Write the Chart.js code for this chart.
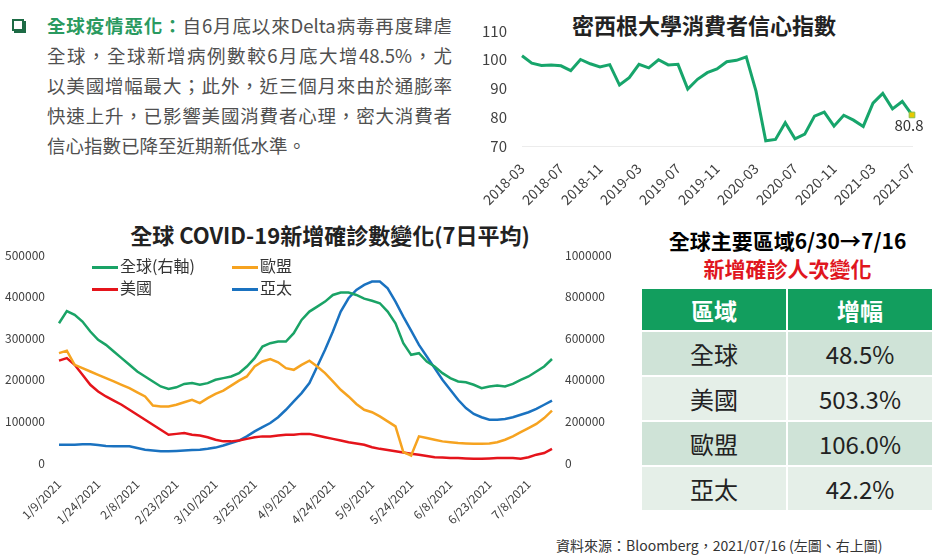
<!DOCTYPE html>
<html>
<head>
<meta charset="utf-8">
<script src="https://cdn.jsdelivr.net/npm/chart.js@4.4.0/dist/chart.umd.min.js"></script>
<style>
  body { margin: 0; width: 938px; height: 557px; background: #fff; overflow: hidden; position: relative;
         font-family: 'Noto Sans CJK TC', 'Noto Sans', sans-serif; }
  .abs { position: absolute; }
  #box { left: 12px; top: 19px; width: 8px; height: 8px; border: 2px solid #1d6b45; box-shadow: 2px 2px 0 #1d6b45; }
  #note { left: 47px; top: 10px; width: 405px; font-size: 18.5px; line-height: 30px; color: #505050; }
  #note .j { text-align: justify; text-align-last: justify; }
  #note b { color: #2a9a60; }
  .title { font-weight: bold; font-size: 22px; color: #222; white-space: nowrap; text-align: center; }
  #legend { left: 92px; top: 254px; font-size: 16px; color: #333; }
  .item { position: absolute; white-space: nowrap; height: 22px; line-height: 22px; }
  .item span { display: inline-block; width: 26px; height: 3px; vertical-align: middle; margin-right: 2px; }
  #tblTitle { left: 640px; top: 226px; width: 295px; text-align: center; font-weight: bold; font-size: 21px; line-height: 28px; }
  table { position: absolute; left: 640px; top: 287px; border-collapse: separate; border-spacing: 2px; }
  th { background: #129e5e; color: #fff; font-size: 23px; font-weight: bold; height: 41px; width: 144px; padding: 0; }
  td { font-size: 24px; color: #222; height: 43px; text-align: center; padding: 0; }
  tr.a td { background: #cfe3d7; }
  tr.b td { background: #e5efe8; }
  #src { left: 556px; top: 535px; font-size: 14px; color: #333; white-space: nowrap; }
</style>
</head>
<body>
<div id="box" class="abs"></div>
<div id="note" class="abs">
  <div class="j"><b>全球疫情惡化：</b>自6月底以來Delta病毒再度肆虐</div>
  <div class="j">全球，全球新增病例數較6月底大增48.5%，尤</div>
  <div class="j">以美國增幅最大；此外，近三個月來由於通膨率</div>
  <div class="j">快速上升，已影響美國消費者心理，密大消費者</div>
  <div>信心指數已降至近期新低水準。</div>
</div>

<div class="abs title" style="left:470px; top:8px; width:468px;">密西根大學消費者信心指數</div>
<canvas id="sentimentChart" class="abs" width="468" height="210" style="left:470px; top:0;"></canvas>

<div class="abs title" style="left:80px; top:218px; width:500px;">全球 COVID-19新增確診數變化(7日平均)</div>
<canvas id="covidChart" class="abs" width="625" height="320" style="left:0; top:215px;"></canvas>
<div id="legend" class="abs"></div>

<div id="tblTitle" class="abs">全球主要區域6/30→7/16<br><span style="color:#e0161e">新增確診人次變化</span></div>
<table id="tbl"></table>

<div id="src" class="abs">資料來源：Bloomberg，2021/07/16 (左圖、右上圖)</div>

<script>
// Michigan consumer sentiment, monthly
const months = ['2018-03','2018-04','2018-05','2018-06','2018-07','2018-08','2018-09','2018-10','2018-11','2018-12',
  '2019-01','2019-02','2019-03','2019-04','2019-05','2019-06','2019-07','2019-08','2019-09','2019-10','2019-11','2019-12',
  '2020-01','2020-02','2020-03','2020-04','2020-05','2020-06','2020-07','2020-08','2020-09','2020-10','2020-11','2020-12',
  '2021-01','2021-02','2021-03','2021-04','2021-05','2021-06','2021-07'];
const sentiment = [101.4, 98.8, 98.0, 98.2, 97.9, 96.2, 100.1, 98.6, 97.5, 98.3,
  91.2, 93.8, 98.4, 97.2, 100.0, 98.2, 98.4, 89.8, 93.2, 95.5, 96.8, 99.3,
  99.8, 101.0, 89.1, 71.8, 72.3, 78.1, 72.5, 74.1, 80.4, 81.8, 76.9, 80.7,
  79.0, 76.8, 84.9, 88.3, 82.9, 85.5, 80.8];
const sentimentTicks = [70, 80, 90, 100, 110];

// COVID-19 new cases, 7-day average (every 3rd day)
const dates = ['1/9/2021','1/12/2021','1/15/2021','1/18/2021','1/21/2021','1/24/2021','1/27/2021','1/30/2021',
  '2/2/2021','2/5/2021','2/8/2021','2/11/2021','2/14/2021','2/17/2021','2/20/2021','2/23/2021','2/26/2021',
  '3/1/2021','3/4/2021','3/7/2021','3/10/2021','3/13/2021','3/16/2021','3/19/2021','3/22/2021','3/25/2021','3/28/2021','3/31/2021',
  '4/3/2021','4/6/2021','4/9/2021','4/12/2021','4/15/2021','4/18/2021','4/21/2021','4/24/2021','4/27/2021','4/30/2021',
  '5/3/2021','5/6/2021','5/9/2021','5/12/2021','5/15/2021','5/18/2021','5/21/2021','5/24/2021','5/27/2021','5/30/2021',
  '6/2/2021','6/5/2021','6/8/2021','6/11/2021','6/14/2021','6/17/2021','6/20/2021','6/23/2021','6/26/2021','6/29/2021',
  '7/2/2021','7/5/2021','7/8/2021','7/11/2021','7/14/2021','7/16/2021'];
const globalCases = [672000,730000,712000,680000,632000,592000,568000,536000,504000,472000,440000,416000,392000,368000,356000,364000,
  380000,384000,376000,384000,400000,408000,416000,432000,464000,504000,560000,576000,584000,584000,624000,688000,
  728000,752000,776000,808000,820000,820000,808000,790000,780000,768000,728000,672000,576000,520000,528000,488000,
  464000,432000,408000,392000,388000,376000,360000,368000,372000,368000,380000,400000,416000,440000,464000,500000];
const euCases = [264000,270000,236000,228000,220000,212000,204000,196000,188000,180000,170000,160000,138000,136000,136000,140000,
  146000,152000,144000,156000,166000,174000,186000,198000,208000,232000,244000,250000,242000,228000,224000,236000,
  246000,232000,216000,196000,176000,160000,142000,128000,122000,112000,100000,88000,26000,18000,64000,60000,
  56000,52000,50000,48000,47000,46000,46000,47000,50000,56000,64000,74000,84000,94000,108000,126000];
const usCases = [246000,252000,236000,212000,188000,172000,160000,150000,140000,128000,116000,104000,92000,80000,68000,70000,
  72000,68000,66000,62000,56000,52000,52000,54000,58000,62000,64000,64000,66000,68000,68000,70000,
  70000,66000,62000,58000,54000,50000,47000,44000,38000,34000,31000,28000,25000,22000,20000,17000,
  14000,13000,12000,12000,11000,10000,10000,11000,12000,12000,12000,10000,14000,20000,24000,34000];
const apacCases = [44000,44000,44000,45000,45000,43000,41000,40000,40000,40000,36000,32000,30000,28000,28000,29000,
  30000,31000,32000,34000,37000,42000,48000,54000,64000,76000,86000,96000,110000,128000,148000,168000,
  192000,232000,272000,316000,364000,396000,416000,428000,436000,436000,420000,388000,352000,318000,284000,256000,
  228000,200000,176000,152000,132000,118000,110000,104000,104000,106000,110000,116000,122000,130000,140000,150000];
const leftTicks = [0, 100000, 200000, 300000, 400000, 500000];
const rightTicks = [0, 200000, 400000, 600000, 800000, 1000000];

// table
const regions = ['全球', '美國', '歐盟', '亞太'];
const growth = ['48.5%', '503.3%', '106.0%', '42.2%'];

const FONT = "'Noto Sans CJK TC', 'Noto Sans', sans-serif";
Chart.defaults.font.family = FONT;
Chart.defaults.color = '#404040';

const lastLabel = {
  id: 'lastLabel',
  afterDatasetsDraw(chart) {
    const meta = chart.getDatasetMeta(0);
    const pt = meta.data[meta.data.length - 1];
    const ctx = chart.ctx;
    ctx.save();
    ctx.font = '15px ' + FONT;
    ctx.fillStyle = '#333';
    ctx.textAlign = 'center';
    ctx.textBaseline = 'top';
    ctx.fillText(sentiment[sentiment.length - 1].toFixed(1), pt.x - 3, pt.y + 3);
    ctx.restore();
  }
};

new Chart(document.getElementById('sentimentChart'), {
  type: 'line',
  data: {
    labels: months,
    datasets: [{
      data: sentiment,
      borderColor: '#17a56b',
      borderWidth: 3,
      tension: 0,
      pointStyle: 'rect',
      pointRadius: ctx => ctx.dataIndex === sentiment.length - 1 ? 4 : 0,
      pointBackgroundColor: '#e8c800',
      pointBorderColor: '#86c04a',
      pointBorderWidth: 1
    }]
  },
  options: {
    responsive: false,
    animation: false,
    layout: { padding: { top: 31, right: 26 } },
    plugins: { legend: { display: false }, tooltip: { enabled: false } },
    scales: {
      x: {
        grid: { display: false },
        border: { display: true, color: '#ececec' },
        ticks: {
          autoSkip: false, minRotation: 45, maxRotation: 45, padding: 6,
          font: { size: 14 },
          callback: (v, i) => i % 4 === 0 ? months[i] : ''
        },
        afterFit: s => { s.height = 64; }
      },
      y: {
        min: 70, max: 110,
        afterBuildTicks: s => { s.ticks = sentimentTicks.map(v => ({ value: v })); },
        grid: { display: false },
        border: { display: false },
        ticks: { padding: 7, font: { size: 15 } },
        afterFit: s => { s.width = 52; }
      }
    }
  },
  plugins: [lastLabel]
});

const series = [
  { label: '全球(右軸)', data: globalCases, color: '#1aa366', axis: 'y1' },
  { label: '歐盟', data: euCases, color: '#f6a320', axis: 'y' },
  { label: '美國', data: usCases, color: '#e5141b', axis: 'y' },
  { label: '亞太', data: apacCases, color: '#1a72c0', axis: 'y' }
];

new Chart(document.getElementById('covidChart'), {
  type: 'line',
  data: {
    labels: dates,
    datasets: series.map(s => ({
      label: s.label,
      data: s.data,
      yAxisID: s.axis,
      borderColor: s.color,
      borderWidth: 2.5,
      pointRadius: 0,
      tension: 0
    }))
  },
  options: {
    responsive: false,
    animation: false,
    layout: { padding: { top: 40 } },
    plugins: { legend: { display: false }, tooltip: { enabled: false } },
    scales: {
      x: {
        grid: { display: false },
        border: { display: false },
        ticks: {
          autoSkip: false, minRotation: 45, maxRotation: 45, padding: 6,
          font: { size: 12 },
          callback: (v, i) => i % 5 === 0 ? dates[i] : ''
        },
        afterFit: s => { s.height = 72; }
      },
      y: {
        position: 'left',
        min: 0, max: 500000,
        afterBuildTicks: s => { s.ticks = leftTicks.map(v => ({ value: v })); },
        grid: { display: false },
        border: { display: false },
        ticks: { padding: 6, font: { size: 12 }, callback: v => String(v) },
        afterFit: s => { s.width = 59; }
      },
      y1: {
        position: 'right',
        min: 0, max: 1000000,
        afterBuildTicks: s => { s.ticks = rightTicks.map(v => ({ value: v })); },
        grid: { display: false },
        border: { display: false },
        ticks: { padding: 5, font: { size: 12 }, callback: v => String(v) },
        afterFit: s => { s.width = 73; }
      }
    }
  }
});

// legend (two columns, laid over the plot)
const legend = document.getElementById('legend');
const legendPos = [[0, 0], [140, 0], [0, 22], [140, 22]];
series.forEach((s, k) => {
  const el = document.createElement('div');
  el.className = 'item';
  el.style.left = legendPos[k][0] + 'px';
  el.style.top = legendPos[k][1] + 'px';
  el.innerHTML = '<span style="background:' + s.color + '"></span>' + s.label;
  legend.appendChild(el);
});

// table
const tbl = document.getElementById('tbl');
let html = '<tr><th>區域</th><th>增幅</th></tr>';
regions.forEach((r, i) => {
  html += '<tr class="' + (i % 2 === 0 ? 'a' : 'b') + '"><td>' + r + '</td><td>' + growth[i] + '</td></tr>';
});
tbl.innerHTML = html;
</script>
</body>
</html>
